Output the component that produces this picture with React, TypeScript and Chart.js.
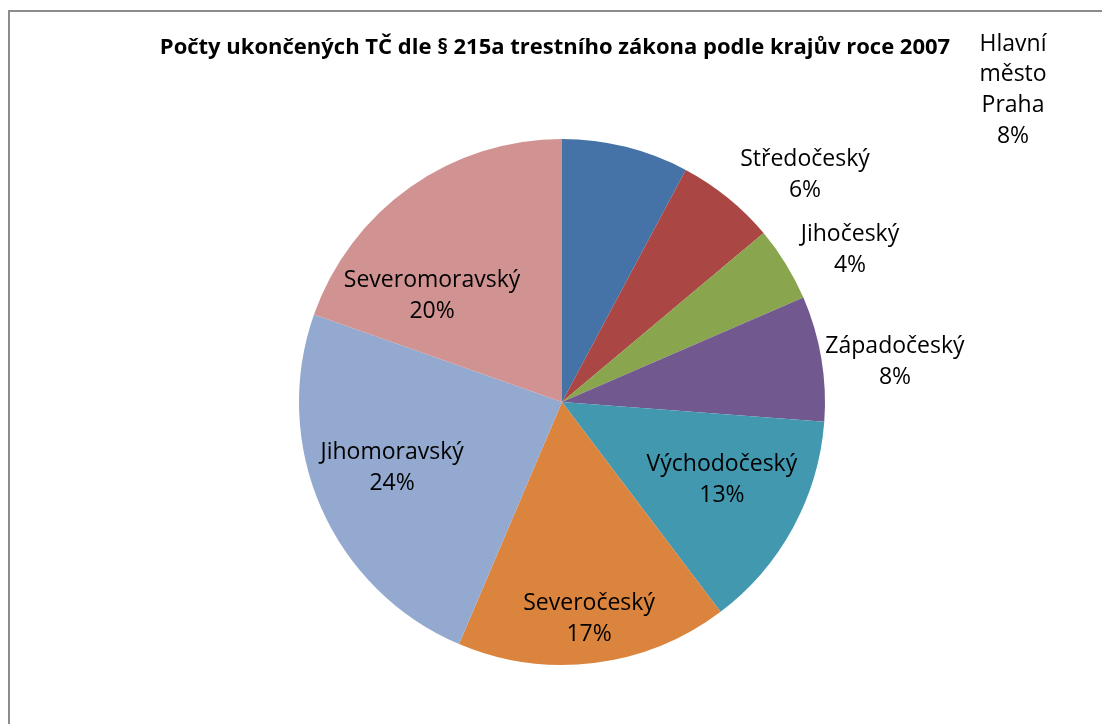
import React, { useEffect, useRef } from "react";
import { Chart, registerables } from "chart.js";

Chart.register(...registerables);

const regions = [
  "Hlavní město Praha",
  "Středočeský",
  "Jihočeský",
  "Západočeský",
  "Východočeský",
  "Severočeský",
  "Jihomoravský",
  "Severomoravský",
];
const shares = [7.8, 6.1, 4.6, 7.7, 13.5, 16.7, 24.0, 19.6];
const percentLabels = ["8%", "6%", "4%", "8%", "13%", "17%", "24%", "20%"];
const labelLines = [
  ["Hlavní", "město", "Praha"],
  ["Středočeský"],
  ["Jihočeský"],
  ["Západočeský"],
  ["Východočeský"],
  ["Severočeský"],
  ["Jihomoravský"],
  ["Severomoravský"],
];
const colors = ["#4572A7", "#AA4643", "#89A54E", "#71588F", "#4198AF", "#DB843D", "#93A9CF", "#D19392"];
const titleText = "Počty ukončených TČ dle § 215a trestního zákona podle krajův roce 2007";

// label anchors relative to pie centre, in units of radius
const labelAnchors: [number, number][] = [
  [1.715, -1.186],
  [0.924, -0.863],
  [1.095, -0.578],
  [1.266, -0.152],
  [0.608, 0.297],
  [0.103, 0.825],
  [-0.646, 0.251],
  [-0.494, -0.403],
];

const FONT = "'Open Sans', sans-serif";

const decorPlugin = {
  id: "decor",
  beforeDraw(chart: any) {
    const ctx = chart.ctx;
    ctx.save();
    ctx.fillStyle = "#ffffff";
    ctx.fillRect(0, 0, chart.width, chart.height);
    ctx.strokeStyle = "#8c8c8c";
    ctx.lineWidth = 2;
    ctx.beginPath();
    ctx.moveTo(9, chart.height);
    ctx.lineTo(9, 11);
    ctx.lineTo(chart.width, 11);
    ctx.stroke();
    ctx.restore();
  },
  afterDraw(chart: any) {
    const ctx = chart.ctx;
    ctx.save();
    ctx.fillStyle = "#000000";
    ctx.textAlign = "center";
    ctx.textBaseline = "middle";
    ctx.font = "bold 22px " + FONT;
    ctx.fillText(titleText, 555, 48);
    const meta = chart.getDatasetMeta(0);
    ctx.font = "23px " + FONT;
    const lh = 30.7;
    meta.data.forEach((arc: any, i: number) => {
      const cx = arc.x;
      const cy = arc.y;
      const r = arc.outerRadius;
      const x = cx + labelAnchors[i][0] * r;
      const y = cy + labelAnchors[i][1] * r;
      const lines = [...labelLines[i], percentLabels[i]];
      const startY = y - ((lines.length - 1) * lh) / 2;
      lines.forEach((t, k) => ctx.fillText(t, x, startY + k * lh));
    });
    ctx.restore();
  },
};

export default function App() {
  const ref = useRef<HTMLCanvasElement>(null);
  useEffect(() => {
    if (!ref.current) return;
    const chart = new Chart(ref.current, {
      type: "pie",
      data: {
        labels: regions,
        datasets: [
          {
            data: shares,
            backgroundColor: colors,
            borderWidth: 0,
          },
        ],
      },
      options: {
        animation: false,
        responsive: false,
        maintainAspectRatio: false,
        layout: { padding: { left: 200, right: 178, top: 139, bottom: 59 } },
        plugins: {
          legend: { display: false },
          title: { display: false },
          tooltip: { enabled: false },
        },
      },
      plugins: [decorPlugin],
    });
    return () => chart.destroy();
  }, []);
  return (
    <div style={{ position: "fixed", left: 0, top: 0, width: 1102, height: 724, background: "#fff" }}>
      <canvas ref={ref} width={1102} height={724} style={{ width: 1102, height: 724, display: "block" }} />
    </div>
  );
}
